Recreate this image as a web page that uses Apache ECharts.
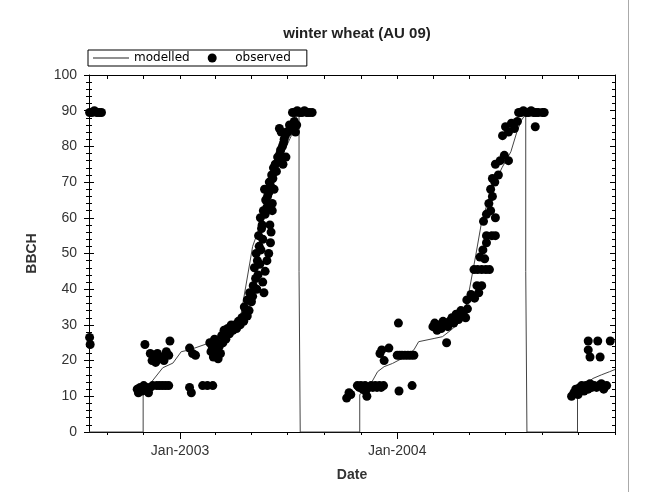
<!DOCTYPE html>
<html lang="en">
<head>
    <meta charset="UTF-8">
    <title>winter wheat (AU 09)</title>
    <style>
        * { margin: 0; padding: 0; }
        body { background: #fff; }
        #chart-container { width: 650px; height: 492px; }
    </style>
</head>
<body>
    <div id="chart-container"></div>
    <script src="https://cdn.jsdelivr.net/npm/echarts@6.0.0/dist/echarts.min.js"></script>
    <script>
        // axis ticks (every 2 months) and labelled ticks
        var tickDates = ['2002-09-01', '2002-11-01', '2003-01-01', '2003-03-01', '2003-05-01', '2003-07-01',
            '2003-09-01', '2003-11-01', '2004-01-01', '2004-03-01', '2004-05-01', '2004-07-01',
            '2004-09-01', '2004-11-01', '2005-01-01'];
        var labelDates = ['2003-01-01', '2004-01-01'];
        var yTicks = [0, 10, 20, 30, 40, 50, 60, 70, 80, 90, 100];

        // modelled BBCH
        var modelled = [
            ['2002-08-01', 0], ['2002-10-31', 0], ['2002-10-31', 12], ['2002-11-14', 14], ['2002-12-03', 18],
            ['2002-12-20', 19.3], ['2003-01-03', 22.5], ['2003-01-17', 23], ['2003-02-20', 25], ['2003-03-08', 25.8],
            ['2003-03-25', 28], ['2003-04-08', 31], ['2003-04-14', 33.5], ['2003-05-03', 52], ['2003-05-18', 59],
            ['2003-05-31', 66], ['2003-06-12', 72], ['2003-06-22', 77.5], ['2003-07-07', 83], ['2003-07-15', 88],
            ['2003-07-20', 89], ['2003-07-20', 45], ['2003-07-22', 45], ['2003-07-22', 0],
            ['2003-10-30', 0], ['2003-10-30', 10.5], ['2003-11-06', 11.3], ['2003-11-18', 13.6], ['2003-11-29', 16.9],
            ['2003-12-10', 18.3], ['2003-12-24', 19.2], ['2004-01-09', 20.6], ['2004-01-29', 23], ['2004-02-06', 25.3],
            ['2004-03-03', 26.2], ['2004-03-17', 26.7], ['2004-03-31', 28.5], ['2004-04-17', 31], ['2004-04-27', 36],
            ['2004-05-12', 49.5], ['2004-05-22', 59], ['2004-06-08', 68], ['2004-06-25', 74], ['2004-07-10', 78.5],
            ['2004-07-20', 84], ['2004-07-28', 87.4], ['2004-08-04', 89], ['2004-08-04', 45], ['2004-08-06', 45],
            ['2004-08-06', 0], ['2004-10-30', 0], ['2004-10-30', 11.8], ['2004-11-09', 12.5], ['2004-11-21', 14.5],
            ['2004-11-25', 15], ['2004-12-09', 16], ['2004-12-23', 16.9], ['2005-01-01', 17.5]
        ];

        // observed BBCH, one array per season
        var observed2002 = [
            ['2002-08-02', 89.5], ['2002-08-06', 89.5], ['2002-08-10', 90], ['2002-08-14', 89.5],
            ['2002-08-18', 89.5], ['2002-08-22', 89.5], ['2002-08-02', 26.5], ['2002-08-03', 24.5]
        ];
        var observed2003 = [
            ['2002-10-21', 12], ['2002-10-23', 11], ['2002-10-26', 12.5], ['2002-10-29', 11.5], ['2002-11-01', 13],
            ['2002-11-03', 12], ['2002-11-06', 12.5], ['2002-11-09', 11], ['2002-11-12', 12.5], ['2002-11-16', 13],
            ['2002-11-03', 24.5],
            ['2002-11-12', 22], ['2002-11-15', 20], ['2002-11-18', 21.5], ['2002-11-21', 19.5], ['2002-11-24', 22],
            ['2002-11-28', 20.5], ['2002-12-02', 21], ['2002-12-05', 20], ['2002-12-09', 22.5], ['2002-12-13', 21.5],
            ['2002-11-23', 13], ['2002-11-28', 13], ['2002-12-03', 13], ['2002-12-08', 13], ['2002-12-13', 13],
            ['2002-12-15', 25.5], ['2003-01-17', 12.5], ['2003-01-20', 11],
            ['2003-01-17', 23.5], ['2003-01-22', 22], ['2003-01-27', 21.5],
            ['2003-02-08', 13], ['2003-02-16', 13], ['2003-02-25', 13],
            ['2003-02-20', 25], ['2003-02-22', 22.5], ['2003-02-24', 24], ['2003-02-26', 21], ['2003-02-28', 26],
            ['2003-03-02', 23], ['2003-03-04', 25], ['2003-03-06', 20.5], ['2003-03-08', 24], ['2003-03-10', 22],
            ['2003-03-12', 27], ['2003-03-14', 25], ['2003-03-16', 28.5], ['2003-03-19', 26], ['2003-03-22', 29],
            ['2003-03-25', 27.5], ['2003-03-28', 30], ['2003-03-31', 28.5], ['2003-04-03', 30], ['2003-04-06', 29],
            ['2003-04-09', 31], ['2003-04-12', 30], ['2003-04-15', 32], ['2003-04-18', 31], ['2003-04-21', 33],
            ['2003-04-24', 32.5], ['2003-04-27', 34],
            ['2003-04-19', 35], ['2003-04-24', 37], ['2003-04-28', 39], ['2003-05-01', 36.5], ['2003-05-04', 41],
            ['2003-05-08', 43], ['2003-05-06', 46], ['2003-05-11', 48], ['2003-05-09', 50], ['2003-05-14', 52],
            ['2003-05-13', 55], ['2003-05-18', 57], ['2003-05-16', 60], ['2003-05-21', 62], ['2003-05-25', 65],
            ['2003-05-28', 66], ['2003-05-23', 68], ['2003-05-31', 70], ['2003-06-04', 72], ['2003-06-07', 74],
            ['2003-06-10', 75], ['2003-06-14', 77], ['2003-06-19', 79], ['2003-06-22', 80], ['2003-06-25', 82],
            ['2003-06-20', 84], ['2003-06-29', 84], ['2003-07-04', 86], ['2003-07-07', 85], ['2003-07-12', 87],
            ['2003-05-03', 38], ['2003-05-10', 40], ['2003-05-12', 44], ['2003-05-15', 47], ['2003-05-17', 51],
            ['2003-05-20', 54], ['2003-05-19', 58], ['2003-05-24', 61], ['2003-05-27', 63], ['2003-05-30', 67],
            ['2003-06-02', 69], ['2003-06-06', 71], ['2003-06-12', 73], ['2003-06-16', 76], ['2003-06-18', 78],
            ['2003-06-24', 81], ['2003-06-27', 83], ['2003-07-01', 84], ['2003-07-09', 86],
            ['2003-05-22', 39], ['2003-05-20', 42], ['2003-05-24', 45], ['2003-05-27', 48], ['2003-05-30', 50],
            ['2003-06-02', 53], ['2003-06-03', 56], ['2003-06-01', 58], ['2003-06-05', 62], ['2003-06-05', 64],
            ['2003-06-08', 68], ['2003-06-23', 75], ['2003-06-28', 77], ['2003-06-17', 85], ['2003-07-14', 84],
            ['2003-07-16', 86],
            ['2003-07-09', 89.5], ['2003-07-13', 89.5], ['2003-07-17', 90], ['2003-07-21', 89.5], ['2003-07-25', 89.5],
            ['2003-07-29', 90], ['2003-08-02', 89.5], ['2003-08-06', 89.5], ['2003-08-11', 89.5]
        ];
        var observed2004 = [
            ['2003-10-08', 9.5], ['2003-10-12', 11], ['2003-10-15', 10.5], ['2003-10-26', 13], ['2003-10-29', 12.5],
            ['2003-11-01', 13], ['2003-11-04', 12], ['2003-11-08', 13], ['2003-11-11', 10], ['2003-11-09', 11.5],
            ['2003-11-15', 12.5], ['2003-11-18', 13], ['2003-11-21', 12.5], ['2003-11-25', 13], ['2003-11-28', 12.5],
            ['2003-12-02', 13], ['2003-12-05', 12.5], ['2003-12-09', 13],
            ['2003-12-03', 22], ['2003-12-06', 23], ['2003-12-10', 20], ['2003-12-18', 23.5],
            ['2004-01-01', 21.5], ['2004-01-05', 21.5], ['2004-01-09', 21.5], ['2004-01-14', 21.5], ['2004-01-19', 21.5],
            ['2004-01-24', 21.5], ['2004-01-29', 21.5],
            ['2004-01-03', 30.5], ['2004-01-04', 11.5], ['2004-01-26', 13], ['2004-03-24', 25],
            ['2004-03-01', 29.5], ['2004-03-04', 30.5], ['2004-03-08', 28.5], ['2004-03-11', 30], ['2004-03-15', 29],
            ['2004-03-18', 31], ['2004-03-22', 30], ['2004-03-26', 29.5], ['2004-03-29', 31], ['2004-04-02', 32],
            ['2004-04-05', 30.5], ['2004-04-09', 33], ['2004-04-13', 31.5], ['2004-04-17', 34], ['2004-04-21', 33],
            ['2004-04-25', 32], ['2004-04-28', 34.5],
            ['2004-04-27', 37], ['2004-05-04', 38.5], ['2004-05-10', 37.5], ['2004-05-17', 39], ['2004-05-14', 41],
            ['2004-05-22', 41], ['2004-05-09', 45.5], ['2004-05-15', 45.5], ['2004-05-22', 45.5], ['2004-05-29', 45.5],
            ['2004-06-04', 45.5], ['2004-05-19', 49], ['2004-05-24', 51], ['2004-05-30', 53], ['2004-05-27', 48.5],
            ['2004-05-30', 55], ['2004-06-08', 55], ['2004-06-14', 55], ['2004-05-25', 59], ['2004-05-30', 61],
            ['2004-06-06', 62], ['2004-06-03', 64], ['2004-06-09', 66], ['2004-06-14', 60], ['2004-06-06', 68],
            ['2004-06-13', 70], ['2004-06-19', 72], ['2004-06-09', 71], ['2004-06-14', 75], ['2004-06-22', 76],
            ['2004-06-29', 77.5], ['2004-07-06', 76], ['2004-06-26', 83], ['2004-07-01', 85.5], ['2004-07-06', 84],
            ['2004-07-11', 86.5], ['2004-07-16', 85], ['2004-07-21', 87], ['2004-08-20', 85.5],
            ['2004-07-23', 89.5], ['2004-07-27', 89.5], ['2004-07-31', 90], ['2004-08-05', 89.5], ['2004-08-09', 89.5],
            ['2004-08-13', 90], ['2004-08-17', 89.5], ['2004-08-21', 89.5], ['2004-08-25', 89.5], ['2004-09-01', 89.5],
            ['2004-09-04', 89.5]
        ];
        var observed2005 = [
            ['2004-10-20', 10], ['2004-10-24', 11], ['2004-10-27', 12], ['2004-10-31', 10.5], ['2004-11-03', 12.5],
            ['2004-11-06', 13], ['2004-11-10', 11.5], ['2004-11-13', 13], ['2004-11-17', 12], ['2004-11-20', 13.5],
            ['2004-11-23', 12.5], ['2004-11-27', 13], ['2004-12-01', 12.5], ['2004-12-05', 13], ['2004-12-09', 13.5],
            ['2004-12-13', 12], ['2004-12-18', 13],
            ['2004-11-17', 25.5], ['2004-12-03', 25.5], ['2004-12-24', 25.5],
            ['2004-11-17', 23], ['2004-11-20', 21], ['2004-12-07', 21]
        ];

        function t(s) { return new Date(s + 'T00:00:00Z').getTime(); }
        function toXY(list) { return list.map(function (p) { return [t(p[0]), p[1]]; }); }

        var xMin = t('2002-08-01');
        var xMax = t('2005-01-01');
        var black = '#000';
        var labelFont = { fontFamily: 'Liberation Sans', fontSize: 14, color: '#333' };
        var nameFont = { fontFamily: 'Liberation Sans', fontSize: 14, fontWeight: 'bold', color: '#333' };

        var observedAll = toXY(observed2002.concat(observed2003, observed2004, observed2005));

        var dom = document.getElementById('chart-container');
        var myChart = echarts.init(dom, null, { renderer: 'canvas' });

        var option = {
            animation: false,
            backgroundColor: '#fff',
            title: {
                text: 'winter wheat (AU 09)',
                left: 352,
                top: 21,
                textAlign: 'center',
                textStyle: { fontFamily: 'Liberation Sans', fontSize: 15, fontWeight: 'bold', color: '#222' }
            },
            legend: {
                left: 88,
                top: 50,
                padding: [2, 16, 2, 5],
                itemGap: 18,
                itemWidth: 36,
                itemHeight: 9,
                borderColor: black,
                borderWidth: 1,
                borderRadius: 0,
                textStyle: { fontFamily: 'DejaVu Sans', fontSize: 12, color: '#000' },
                data: [
                    { name: 'modelled', icon: 'path://M0,0 H36 V1 H0 Z', itemStyle: { color: '#222' } },
                    { name: 'observed', icon: 'circle' }
                ]
            },
            grid: { left: 89, right: 35, top: 75, bottom: 60 },
            xAxis: [
                {
                    type: 'value', position: 'bottom', min: xMin, max: xMax,
                    name: 'Date', nameLocation: 'middle', nameGap: 36, nameTextStyle: nameFont,
                    axisLine: { onZero: false, lineStyle: { color: black } },
                    axisTick: { customValues: labelDates.map(t), length: 7, lineStyle: { color: black } },
                    axisLabel: {
                        customValues: labelDates.map(t), margin: 12,
                        formatter: function (v) { return 'Jan-' + new Date(v).getUTCFullYear(); },
                        fontFamily: labelFont.fontFamily, fontSize: labelFont.fontSize, color: labelFont.color
                    },
                    splitLine: { show: false }
                },
                {
                    type: 'value', position: 'bottom', min: xMin, max: xMax,
                    axisLine: { show: false, onZero: false },
                    axisTick: { customValues: tickDates.map(t), length: 3, lineStyle: { color: black } },
                    axisLabel: { show: false },
                    splitLine: { show: false }
                },
                {
                    type: 'value', position: 'top', min: xMin, max: xMax,
                    axisLine: { onZero: false, lineStyle: { color: black } },
                    axisTick: { inside: true, customValues: tickDates.map(t), length: 4, lineStyle: { color: black } },
                    axisLabel: { show: false },
                    splitLine: { show: false }
                }
            ],
            yAxis: [
                {
                    type: 'value', position: 'left', min: 0, max: 100, interval: 10,
                    name: 'BBCH', nameLocation: 'middle', nameGap: 50, nameTextStyle: nameFont,
                    axisLine: { show: true, onZero: false, lineStyle: { color: black } },
                    axisTick: { show: true, length: 5, lineStyle: { color: black } },
                    minorTick: { show: true, splitNumber: 5, length: 3, lineStyle: { color: black } },
                    axisLabel: {
                        customValues: yTicks, margin: 12,
                        fontFamily: labelFont.fontFamily, fontSize: labelFont.fontSize, color: labelFont.color
                    },
                    splitLine: { show: false }
                },
                {
                    type: 'value', position: 'left', min: 0, max: 100, interval: 10,
                    axisLine: { show: false, onZero: false },
                    axisTick: { show: true, inside: true, length: 5, lineStyle: { color: black } },
                    minorTick: { show: true, splitNumber: 5, length: 3, lineStyle: { color: black } },
                    axisLabel: { show: false },
                    splitLine: { show: false }
                },
                {
                    type: 'value', position: 'right', min: 0, max: 100, interval: 10,
                    axisLine: { show: true, onZero: false, lineStyle: { color: black } },
                    axisTick: { show: true, inside: true, length: 5, lineStyle: { color: black } },
                    minorTick: { show: true, splitNumber: 5, length: 3, lineStyle: { color: black } },
                    axisLabel: { show: false },
                    splitLine: { show: false }
                }
            ],
            graphic: [
                {
                    type: 'line', silent: true,
                    shape: { x1: 628.5, y1: 0, x2: 628.5, y2: 492 },
                    style: { stroke: '#aaa', lineWidth: 1 }
                }
            ],
            series: [
                {
                    name: 'modelled',
                    type: 'line',
                    data: toXY(modelled),
                    symbol: 'none',
                    showSymbol: false,
                    lineStyle: { color: '#444', width: 1 },
                    itemStyle: { color: '#444' },
                    z: 2
                },
                {
                    name: 'observed',
                    type: 'scatter',
                    data: observedAll,
                    symbol: 'circle',
                    symbolSize: 9,
                    itemStyle: { color: black, opacity: 1 },
                    z: 3
                }
            ]
        };

        myChart.setOption(option);
        window.addEventListener('resize', myChart.resize);
    </script>
</body>
</html>
